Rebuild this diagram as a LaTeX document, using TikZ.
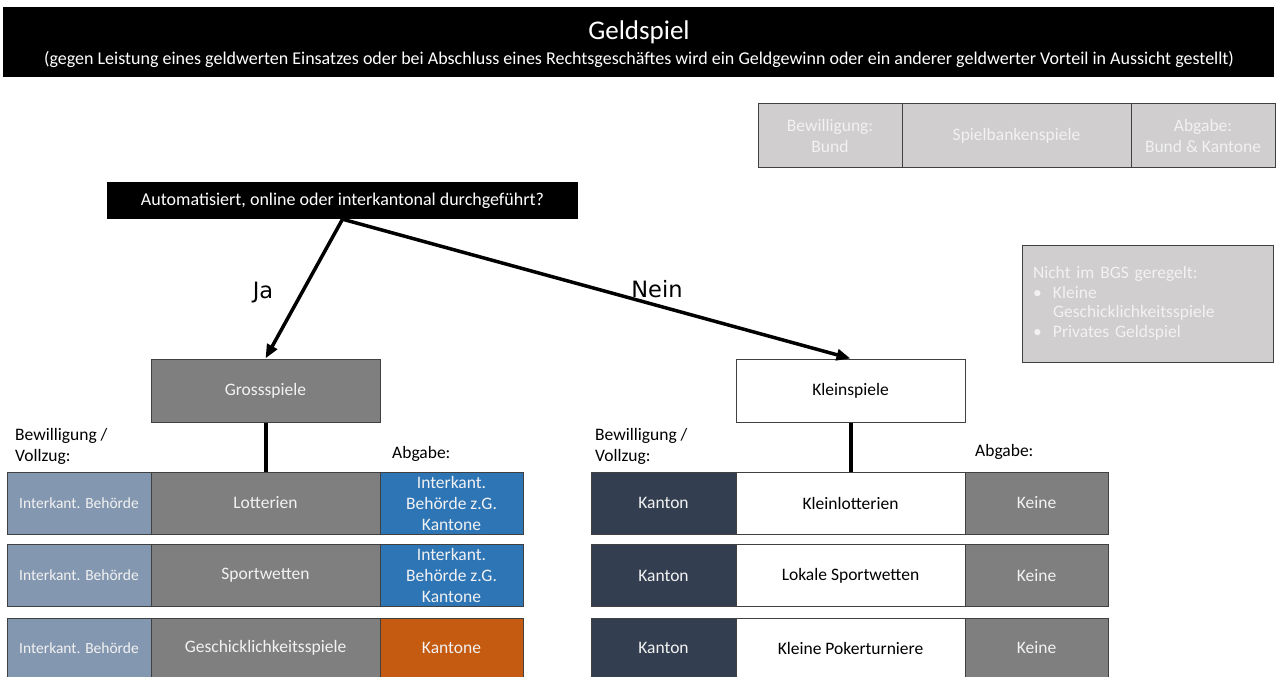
\documentclass[tikz,border=0pt]{standalone}
\usepackage{fontspec}
\setmainfont{Carlito}
\newfontfamily\jnfont{DejaVu Sans}
\usetikzlibrary{arrows.meta}
\definecolor{hellgrau}{HTML}{D0CECE}
\definecolor{mittelgrau}{HTML}{7F7F7F}
\definecolor{graublau}{HTML}{8497B0}
\definecolor{nachtblau}{HTML}{333F50}
\definecolor{stahlblau}{HTML}{2E75B6}
\definecolor{rost}{HTML}{C55A11}
\definecolor{helltext}{HTML}{F2F2F2}

\begin{document}
\begin{tikzpicture}[x=1pt,y=-1pt,
  cell/.style={draw=black!75, line width=1pt, inner sep=0pt, align=center, minimum height=62, font=\fontsize{17.5}{21}\selectfont},
  klein/.style={font=\fontsize{15.5}{19}\selectfont},
  lab/.style={inner sep=0pt, align=left, font=\fontsize{17.5}{21}\selectfont},
  pfeil/.style={line width=3.5pt, -{Triangle[length=14pt,width=11pt]}},
  stamm/.style={line width=4pt}]
  \useasboundingbox (0,0) rectangle (1278,677);

  \node[fill=black, minimum width=1271, minimum height=70, inner sep=0pt] (banner) at (638.5,42) {};
  \node[anchor=base, text=white, inner sep=0pt, font=\fontsize{27}{32}\selectfont] (titel) at (639,40) {Geldspiel};
  \node[anchor=base, text=white, inner sep=0pt, font=\fontsize{18}{22}\selectfont] (untertitel) at (639,65) {(gegen Leistung eines geldwerten Einsatzes oder bei Abschluss eines Rechtsgeschäftes wird ein Geldgewinn oder ein anderer geldwerter Vorteil in Aussicht gestellt)};

  \node[cell, fill=hellgrau, text=helltext, minimum width=144, minimum height=63] (sbbew) at (830,135.5) {Bewilligung:\\Bund};
  \node[cell, fill=hellgrau, text=helltext, minimum width=229, minimum height=63] (sbspiel) at (1016.5,135.5) {Spielbankenspiele};
  \node[cell, fill=hellgrau, text=helltext, minimum width=144, minimum height=63] (sbabg) at (1203,135.5) {Abgabe:\\Bund \& Kantone};

  \node[fill=black, text=white, minimum width=471, minimum height=37, inner sep=0pt, font=\fontsize{18}{22}\selectfont] (frage) at (342.5,200.5) {Automatisiert, online oder interkantonal durchgeführt?};

  \node[cell, fill=hellgrau, text=helltext, minimum width=251, minimum height=117, text width=229, align=left, font=\fontsize{17.5}{19.5}\selectfont] (hinweis) at (1147.5,303.5) {Nicht im BGS geregelt:\\\makebox[20pt][l]{\textbullet}Kleine\\\hspace*{20pt}Geschicklichkeitsspiele\\\makebox[20pt][l]{\textbullet}Privates Geldspiel};

  \node[cell, fill=mittelgrau, text=helltext, minimum width=229, minimum height=63] (gross) at (265.5,390.5) {Grossspiele};
  \node[cell, fill=white, minimum width=229, minimum height=63] (klein) at (850.5,390.5) {Kleinspiele};

  \draw[pfeil] (frage.south) -- (gross.north);
  \draw[pfeil] (frage.south) -- (klein.north);
  \node[font=\jnfont\fontsize{22.5}{26}\selectfont] (ja) at (263,293) {Ja};
  \node[font=\jnfont\fontsize{22.5}{26}\selectfont] (nein) at (657,289) {Nein};

  \node[lab, anchor=north west] (bewlinks) at (15,428) {Bewilligung /\\Vollzug:};
  \node[lab, anchor=base west] (abglinks) at (392,458) {Abgabe:};
  \node[lab, anchor=north west] (bewrechts) at (595,428) {Bewilligung /\\Vollzug:};
  \node[lab, anchor=base west] (abgrechts) at (975,456) {Abgabe:};

  \node[cell, klein, fill=graublau, text=helltext, minimum width=144] (lotbew) at (79,503) {Interkant. Behörde};
  \node[cell, fill=mittelgrau, text=helltext, minimum width=229] (lotto) at (265.5,503) {Lotterien};
  \node[cell, fill=stahlblau, text=helltext, minimum width=143] (lotabg) at (451.5,503) {Interkant.\\Behörde z.G.\\Kantone};
  \node[cell, klein, fill=graublau, text=helltext, minimum width=144] (spbew) at (79,575.5) {Interkant. Behörde};
  \node[cell, fill=mittelgrau, text=helltext, minimum width=229] (sport) at (265.5,575.5) {Sportwetten};
  \node[cell, fill=stahlblau, text=helltext, minimum width=143] (spabg) at (451.5,575.5) {Interkant.\\Behörde z.G.\\Kantone};
  \node[cell, klein, fill=graublau, text=helltext, minimum width=144, minimum height=60] (gsbew) at (79,648) {Interkant. Behörde};
  \node[cell, fill=mittelgrau, text=helltext, minimum width=229, minimum height=60] (geschick) at (265.5,648) {Geschicklichkeitsspiele};
  \node[cell, fill=rost, text=helltext, minimum width=143, minimum height=60] (gsabg) at (451.5,648) {Kantone};

  \node[cell, fill=nachtblau, text=helltext, minimum width=145] (klbew) at (663.5,503) {Kanton};
  \node[cell, fill=white, minimum width=229] (kleinlotto) at (850.5,503) {Kleinlotterien};
  \node[cell, fill=mittelgrau, text=helltext, minimum width=143] (klabg) at (1036.5,503) {Keine};
  \node[cell, fill=nachtblau, text=helltext, minimum width=145] (lsbew) at (663.5,575.5) {Kanton};
  \node[cell, fill=white, minimum width=229] (lokal) at (850.5,575.5) {Lokale Sportwetten};
  \node[cell, fill=mittelgrau, text=helltext, minimum width=143] (lsabg) at (1036.5,575.5) {Keine};
  \node[cell, fill=nachtblau, text=helltext, minimum width=145, minimum height=60] (pkbew) at (663.5,648) {Kanton};
  \node[cell, fill=white, minimum width=229, minimum height=60] (poker) at (850.5,648) {Kleine Pokerturniere};
  \node[cell, fill=mittelgrau, text=helltext, minimum width=143, minimum height=60] (pkabg) at (1036.5,648) {Keine};

  \draw[stamm] (gross.south) -- (lotto.north);
  \draw[stamm] (klein.south) -- (kleinlotto.north);
\end{tikzpicture}
\end{document}
